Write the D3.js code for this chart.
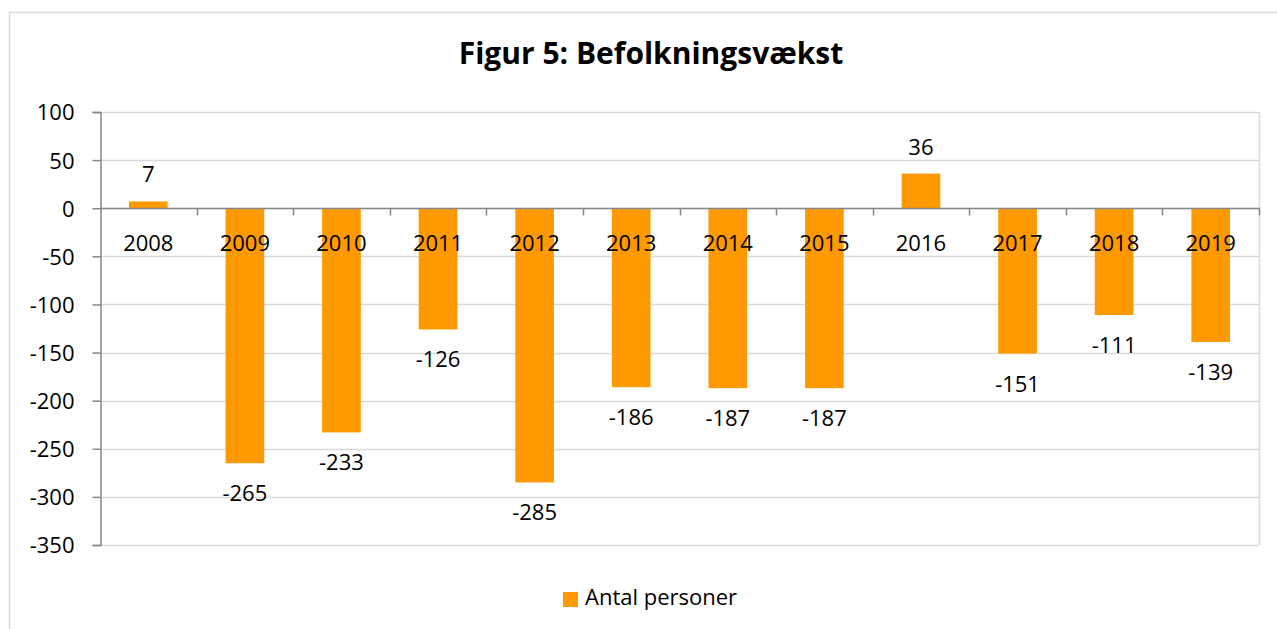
<!DOCTYPE html>
<html>
<head>
<meta charset="utf-8">
<script src="https://cdn.jsdelivr.net/npm/d3@7"></script>
<style>
  html, body { margin: 0; padding: 0; background: #fff; }
  svg { display: block; font-family: "Open Sans", "Noto Sans", sans-serif; }
</style>
</head>
<body>
<svg id="chart" width="1277" height="629"></svg>
<script>
// data
const years = ['2008', '2009', '2010', '2011', '2012', '2013', '2014', '2015', '2016', '2017', '2018', '2019'];
const persons = [7, -265, -233, -126, -285, -186, -187, -187, 36, -151, -111, -139];
const yTicks = [100, 50, 0, -50, -100, -150, -200, -250, -300, -350];

const svg = d3.select('#chart');
const W = 1277, H = 629;
const plot = { left: 100, right: 1259, top: 112, bottom: 545 };

// outer chart border
svg.append('rect')
    .attr('x', 9.5).attr('y', 12.5)
    .attr('width', W + 20).attr('height', H + 20)
    .attr('fill', '#fff').attr('stroke', '#d9d9d9').attr('stroke-width', 1.5);

const x = d3.scaleBand().domain(years).range([plot.left, plot.right]).paddingInner(0.6).paddingOuter(0.3);
const y = d3.scaleLinear().domain([-350, 100]).range([plot.bottom, plot.top]);
const band = (plot.right - plot.left) / years.length;

// gridlines
svg.append('g')
    .selectAll('line')
    .data(yTicks)
    .join('line')
    .attr('x1', plot.left).attr('x2', plot.right)
    .attr('y1', d => Math.round(y(d)) + 0.5).attr('y2', d => Math.round(y(d)) + 0.5)
    .attr('stroke', '#d9d9d9').attr('stroke-width', 1.5);

// plot area right border
svg.append('line')
    .attr('x1', plot.right + 0.5).attr('x2', plot.right + 0.5)
    .attr('y1', plot.top).attr('y2', plot.bottom)
    .attr('stroke', '#d9d9d9').attr('stroke-width', 1.5);

// bars
svg.append('g')
    .selectAll('rect')
    .data(persons)
    .join('rect')
    .attr('x', (d, i) => x(years[i]))
    .attr('width', x.bandwidth())
    .attr('y', d => y(Math.max(0, d)))
    .attr('height', d => Math.abs(y(d) - y(0)))
    .attr('fill', '#ff9900');

// y axis (plain hyphen for negatives, like the original)
const yAxis = d3.axisLeft(y).tickValues(yTicks).tickSize(8).tickPadding(18).tickFormat(d => String(d));
const gy = svg.append('g').attr('transform', `translate(${plot.left + 0.5},0)`).call(yAxis);
gy.select('.domain').attr('stroke', '#868686').attr('stroke-width', 1.5);
gy.selectAll('.tick line').attr('stroke', '#868686').attr('stroke-width', 1.5);
gy.selectAll('.tick text')
    .attr('font-size', 22).attr('fill', '#000')
    .attr('font-family', '"Open Sans", sans-serif')
    .attr('dy', '0.36em');

// zero line with category ticks
const zeroY = Math.round(y(0)) + 0.5;
svg.append('line')
    .attr('x1', plot.left).attr('x2', plot.right + 1)
    .attr('y1', zeroY).attr('y2', zeroY)
    .attr('stroke', '#868686').attr('stroke-width', 1.5);
svg.append('g')
    .selectAll('line')
    .data(years)
    .join('line')
    .attr('x1', (d, i) => Math.round(plot.left + band * (i + 1)) + 0.5)
    .attr('x2', (d, i) => Math.round(plot.left + band * (i + 1)) + 0.5)
    .attr('y1', zeroY).attr('y2', zeroY + 7)
    .attr('stroke', '#868686').attr('stroke-width', 1.5);

// category labels
svg.append('g')
    .selectAll('text')
    .data(years)
    .join('text')
    .attr('x', d => x(d) + x.bandwidth() / 2)
    .attr('y', zeroY + 42)
    .attr('text-anchor', 'middle')
    .attr('font-size', 22)
    .attr('fill', '#000')
    .text(d => d);

// value labels
svg.append('g')
    .selectAll('text')
    .data(persons)
    .join('text')
    .attr('x', (d, i) => x(years[i]) + x.bandwidth() / 2)
    .attr('y', d => d >= 0 ? y(d) - 19 : y(d) + 38)
    .attr('text-anchor', 'middle')
    .attr('font-size', 22)
    .attr('fill', '#000')
    .text(d => d);

// title
svg.append('text')
    .attr('x', 651).attr('y', 64)
    .attr('text-anchor', 'middle')
    .attr('font-size', 30)
    .attr('font-weight', 'bold')
    .attr('fill', '#000')
    .text('Figur 5: Befolkningsvækst');

// legend
const lg = svg.append('g').attr('transform', 'translate(563,592)');
lg.append('rect').attr('width', 15).attr('height', 15).attr('fill', '#ff9900');
lg.append('text')
    .attr('x', 22).attr('y', 13)
    .attr('font-size', 22)
    .attr('fill', '#000')
    .text('Antal personer');
</script>
</body>
</html>
